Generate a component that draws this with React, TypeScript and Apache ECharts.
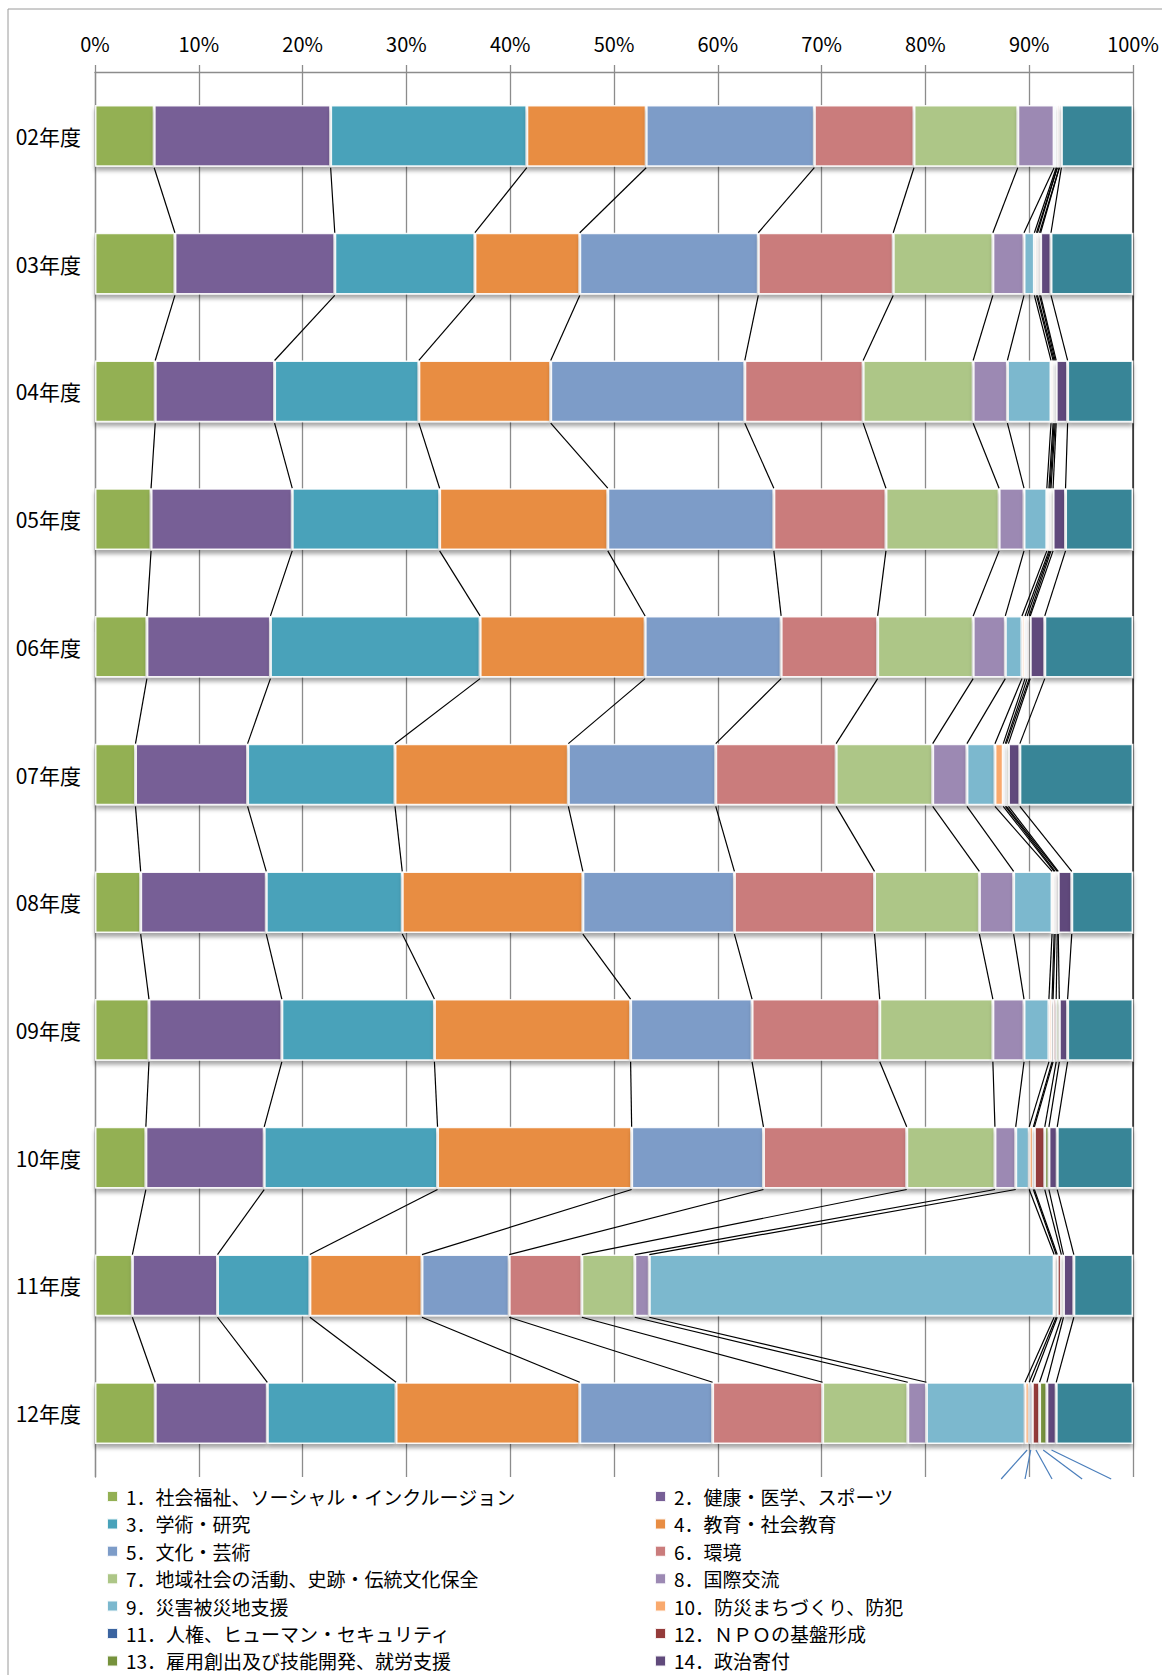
import React, { useEffect, useRef } from "react";
import * as echarts from "echarts";

const years = ["02年度", "03年度", "04年度", "05年度", "06年度", "07年度", "08年度", "09年度", "10年度", "11年度", "12年度"];

const seriesNames = [
  "1．社会福祉、ソーシャル・インクルージョン",
  "2．健康・医学、スポーツ",
  "3．学術・研究",
  "4．教育・社会教育",
  "5．文化・芸術",
  "6．環境",
  "7．地域社会の活動、史跡・伝統文化保全",
  "8．国際交流",
  "9．災害被災地支援",
  "10．防災まちづくり、防犯",
  "11．人権、ヒューマン・セキュリティ",
  "12．ＮＰＯの基盤形成",
  "13．雇用創出及び技能開発、就労支援",
  "14．政治寄付",
  "15．その他",
];

const colors = [
  "#93B053", "#775F96", "#48A2BA", "#E88D43", "#7D9CC8", "#CA7C7C", "#ADC687", "#9C89B3",
  "#7BB8CE", "#F9A96D", "#3B64A0", "#943B3A", "#76923C", "#604A7B", "#378597",
];

// values (%) per series, by year 02..12
const s1 = [5.7, 7.7, 5.8, 5.4, 5.0, 3.9, 4.4, 5.2, 4.9, 3.6, 5.8];
const s2 = [17.0, 15.4, 11.5, 13.6, 11.9, 10.8, 12.1, 12.8, 11.4, 8.2, 10.8];
const s3 = [18.9, 13.5, 13.9, 14.2, 20.2, 14.2, 13.1, 14.7, 16.7, 8.9, 12.4];
const s4 = [11.5, 10.1, 12.7, 16.2, 15.9, 16.7, 17.4, 18.9, 18.7, 10.8, 17.7];
const s5 = [16.2, 17.2, 18.7, 16.0, 13.1, 14.2, 14.6, 11.7, 12.7, 8.4, 12.8];
const s6 = [9.6, 13.0, 11.4, 10.8, 9.3, 11.6, 13.5, 12.3, 13.8, 7.0, 10.6];
const s7 = [10.0, 9.6, 10.6, 10.9, 9.2, 9.3, 10.1, 10.9, 8.5, 5.1, 8.2];
const s8 = [3.5, 3.0, 3.3, 2.4, 3.1, 3.3, 3.3, 3.0, 2.0, 1.4, 1.8];
const s9 = [0.2, 1.0, 4.2, 2.2, 1.6, 2.7, 3.7, 2.4, 1.3, 39.0, 9.5];
const s10 = [0.1, 0.2, 0.2, 0.2, 0.3, 0.8, 0.2, 0.3, 0.4, 0.2, 0.4];
const s11 = [0.0, 0.1, 0.1, 0.1, 0.2, 0.2, 0.1, 0.1, 0.1, 0.1, 0.3];
const s12 = [0.2, 0.2, 0.1, 0.1, 0.2, 0.1, 0.2, 0.3, 1.0, 0.4, 0.7];
const s13 = [0.0, 0.1, 0.1, 0.2, 0.1, 0.2, 0.1, 0.3, 0.4, 0.2, 0.7];
const s14 = [0.2, 1.0, 1.1, 1.2, 1.4, 1.1, 1.3, 0.8, 0.8, 1.0, 0.9];
const s15 = [6.9, 7.9, 6.3, 6.5, 8.5, 10.9, 5.9, 6.3, 7.3, 5.7, 7.4];

const xTicks = [0, 10, 20, 30, 40, 50, 60, 70, 80, 90, 100];

// decorative callout fan under the last bar (series 10..14), target x in %
const calloutSeries = [9, 10, 11, 12, 13];
const calloutEnds = [87.3, 89.6, 92.2, 95.1, 97.9];

const allSeries = [s1, s2, s3, s4, s5, s6, s7, s8, s9, s10, s11, s12, s13, s14, s15];

const BAR_RATIO = 0.483;
const FONT = "'Noto Sans CJK JP', 'Noto Sans', sans-serif";

export default function App() {
  const ref = useRef<HTMLDivElement>(null);

  useEffect(() => {
    document.body.style.margin = "0";
    if (!ref.current) return;
    const chart = echarts.init(ref.current, null, { renderer: "svg" });

    // cumulative ends
    const cum: number[][] = [];
    allSeries.forEach((arr, k) => {
      cum.push(arr.map((v, i) => (k === 0 ? 0 : cum[k - 1][i]) + v));
    });

    const linkData: number[][] = [];
    cum.forEach((c) => {
      for (let i = 0; i < years.length - 1; i++) linkData.push([c[i], i, c[i + 1]]);
    });

    const last = years.length - 1;
    const calloutData = calloutSeries.map((k, j) => {
      const start = cum[k][last] - allSeries[k][last] / 2;
      return [start, last, calloutEnds[j]];
    });

    const barSeries = allSeries.map((arr, k) => ({
      name: seriesNames[k],
      type: "bar",
      stack: "total",
      barWidth: (BAR_RATIO * 100).toFixed(1) + "%",
      data: arr,
      itemStyle: {
        color: colors[k],
        borderColor: "rgba(255,255,255,0.9)",
        borderWidth: 1.5,
        shadowColor: "rgba(0,0,0,0.35)",
        shadowBlur: 4,
        shadowOffsetY: 4,
      },
      emphasis: { disabled: true },
    }));

    const linkSeries = {
      name: "series-lines",
      type: "custom",
      encode: { x: [0, 2], y: 1 },
      clip: false,
      z: 5,
      data: linkData,
      renderItem: (params: any, api: any) => {
        const p1 = api.coord([api.value(0), api.value(1)]);
        const p2 = api.coord([api.value(2), api.value(1) + 1]);
        const band = api.size([0, 1])[1];
        const half = (band * BAR_RATIO) / 2;
        return {
          type: "line",
          shape: { x1: p1[0], y1: p1[1] + half + 1, x2: p2[0], y2: p2[1] - half },
          style: { stroke: "#000", lineWidth: 1.2 },
        };
      },
    };

    const calloutLines = {
      name: "callouts",
      type: "custom",
      encode: { x: [0, 2], y: 1 },
      clip: false,
      z: 5,
      data: calloutData,
      renderItem: (params: any, api: any) => {
        const p1 = api.coord([api.value(0), api.value(1)]);
        const p2 = api.coord([api.value(2), api.value(1)]);
        const band = api.size([0, 1])[1];
        const half = (band * BAR_RATIO) / 2;
        return {
          type: "line",
          shape: { x1: p1[0], y1: p1[1] + half + 6, x2: p2[0], y2: p2[1] + band / 2 + 2 },
          style: { stroke: "#4A7EBB", lineWidth: 1.2 },
        };
      },
    };

    const legends = seriesNames.slice(0, 14).map((name, i) => ({
      orient: "horizontal",
      left: i % 2 === 0 ? 106 : 654,
      top: 1487 + Math.floor(i / 2) * 27.4,
      itemWidth: 11,
      itemHeight: 11,
      icon: "rect",
      selectedMode: false,
      padding: 0,
      data: [name],
      textStyle: { fontFamily: FONT, fontSize: 19, lineHeight: 19, color: "#000", padding: [0, 0, 0, 3] },
    }));

    chart.setOption({
      animation: false,
      textStyle: { fontFamily: FONT },
      graphic: [
        {
          type: "rect",
          shape: { x: 8, y: 9, width: 1200, height: 1700 },
          style: { fill: "none", stroke: "#9a9a9a", lineWidth: 1 },
          silent: true,
        },
      ],
      legend: legends,
      grid: { left: 95, right: 29, top: 72, bottom: 198, containLabel: false },
      xAxis: {
        type: "value",
        position: "top",
        min: xTicks[0],
        max: xTicks[xTicks.length - 1],
        interval: xTicks[1] - xTicks[0],
        axisLine: { show: true, lineStyle: { color: "#8c8c8c", width: 1.3 } },
        axisTick: { show: true, inside: false, length: 7, lineStyle: { color: "#8c8c8c", width: 1.3 } },
        splitLine: { show: true, lineStyle: { color: "#8c8c8c", width: 1.3 } },
        axisLabel: { formatter: "{value}%", fontSize: 20, color: "#000", margin: 19, fontFamily: FONT },
      },
      yAxis: {
        type: "category",
        inverse: true,
        data: years,
        axisLine: { show: true, lineStyle: { color: "#8c8c8c", width: 1.3 } },
        axisTick: { show: false },
        axisLabel: { fontSize: 21, color: "#000", margin: 14, fontFamily: FONT },
      },
      series: [...barSeries, linkSeries, calloutLines],
    });

    return () => chart.dispose();
  }, []);

  return <div ref={ref} style={{ width: 1162, height: 1675 }} />;
}
